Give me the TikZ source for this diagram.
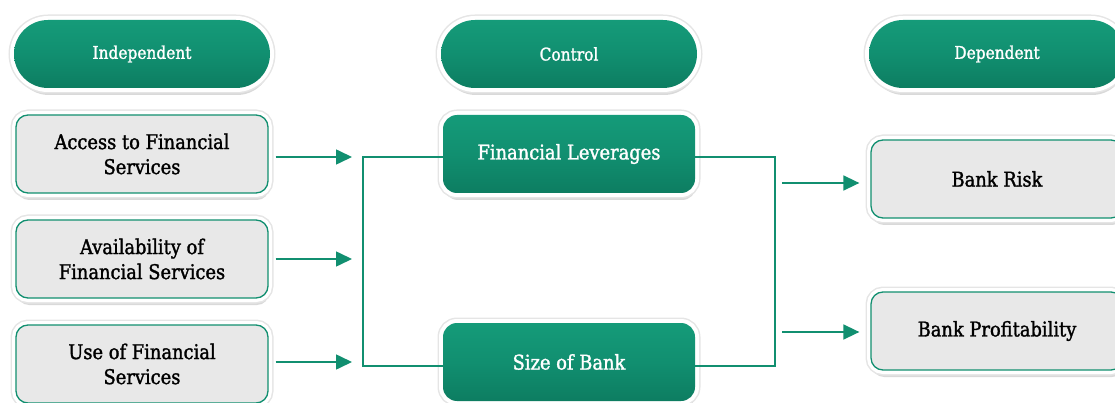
\documentclass[tikz,border=0pt]{standalone}
\usepackage{fontspec}
\setmainfont{DejaVu Serif}[FakeStretch=0.88, FakeBold=1.5]
\usepackage{tikz}
\usetikzlibrary{arrows.meta, shadows}

\definecolor{accent}{RGB}{17,143,112}
\definecolor{accentlight}{RGB}{21,155,121}
\definecolor{accentdark}{RGB}{13,125,97}
\definecolor{boxgrey}{RGB}{232,232,232}

\tikzset{
	frame/.style = {preaction = {draw = black!10, line width = 11pt, drop shadow = {shadow xshift = 1pt, shadow yshift = -7pt, opacity = 0.15, fill = black}}, preaction = {draw = white, line width = 8pt}},
	greenfill/.style = {top color = accentlight, bottom color = accentdark, middle color = accent},
	pill/.style = {frame, greenfill, rounded corners = 34pt, minimum width = 256pt, minimum height = 68pt, text = white, font = \fontsize{17.5}{20}\selectfont},
	greybox/.style = {frame, rounded corners = 12pt, minimum width = 252pt, minimum height = 78pt, fill = boxgrey, draw = accent, line width = 1.3pt, align = center, font = \fontsize{20.3}{25}\selectfont},
	greenbox/.style = {frame, greenfill, rounded corners = 14pt, minimum width = 252pt, minimum height = 78pt, text = white, font = \fontsize{20.3}{25}\selectfont},
	link/.style = {draw = accent, line width = 1.6pt},
	arr/.style = {link, -{Triangle[length = 16pt, width = 15pt]}},
}

\begin{document}
\begin{tikzpicture}[x = 1pt, y = -1pt]
			\useasboundingbox (0,0) rectangle (1115,403);

			\def\colA{142};
			\def\colB{569};
			\def\colC{997};

			\begin{scope}
				\node [pill] (ind) at (\colA,54) {Independent};
				\node [pill] (con) at (\colB,54) {Control};
				\node [pill] (dep) at (\colC,54) {Dependent};
			\end{scope}

			\begin{scope}
				\node [greybox] (access) at (\colA,154) {Access to Financial\\Services};
				\node [greybox] (avail) at (\colA,259) {Availability of\\Financial Services};
				\node [greybox] (use) at (\colA,364) {Use of Financial\\Services};

				\node [greenbox] (lev) at (\colB,154) {Financial Leverages};
				\node [greenbox] (size) at (\colB,362) {Size of Bank};

				\node [greybox] (risk) at (\colC,179) {Bank Risk};
				\node [greybox] (prof) at (\colC,331) {Bank Profitability};
			\end{scope}

			\coordinate (inA) at (352,157);
			\coordinate (inB) at (352,259);
			\coordinate (inC) at (352,362);
			\coordinate (outA) at (782,183);
			\coordinate (outB) at (782,332);

			\begin{scope}[arr, shorten <= 7pt]
				\draw (access.east |- inA) -- (inA);
				\draw (avail.east |- inB) -- (inB);
				\draw (use.east |- inC) -- (inC);
			\end{scope}

			\begin{scope}[link]
				\draw ([yshift = -3pt]lev.west) -- ++(-80,0) |- ([yshift = -4pt]size.west);
				\draw ([yshift = -3pt]lev.east) -- ++(80,0) |- ([yshift = -4pt]size.east);
			\end{scope}

			\begin{scope}[arr, shorten >= 11pt]
				\draw (outA) -- (risk.west |- outA);
				\draw (outB) -- (prof.west |- outB);
			\end{scope}
		\end{tikzpicture}
\end{document}
